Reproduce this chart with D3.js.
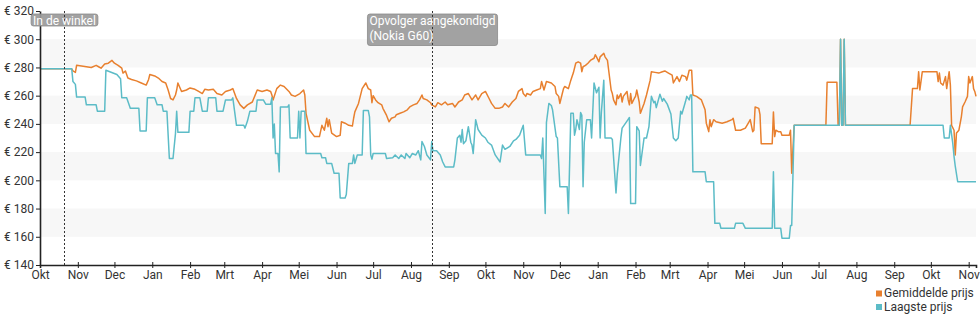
<!DOCTYPE html>
<html>
<head>
<meta charset="utf-8">
<script src="https://cdn.jsdelivr.net/npm/d3@7"></script>
<style>
  html, body { margin: 0; padding: 0; background: #fff; }
  svg { display: block; font-family: Roboto, "Open Sans", Arial, sans-serif; }
</style>
</head>
<body>
<svg id="chart" width="980" height="325"></svg>
<script>
// Price history, Nokia G50 — daily average and lowest offer (EUR)
const avgPrice = [
  ["2021-10-01",279],["2021-10-27",279],["2021-10-28",277.5],["2021-10-30",276.5],["2021-10-31",281.5],
  ["2021-11-04",281],["2021-11-08",280.5],["2021-11-12",280],["2021-11-16",281.5],["2021-11-18",280.5],
  ["2021-11-20",279.5],["2021-11-23",282.5],["2021-11-26",283],["2021-11-29",285],["2021-12-01",283],
  ["2021-12-04",281.5],["2021-12-07",279.5],["2021-12-08",276],["2021-12-10",277.5],["2021-12-12",272.5],
  ["2021-12-15",271.5],["2021-12-19",270.5],["2021-12-23",269],["2021-12-27",267.5],["2021-12-29",271.5],
  ["2021-12-30",275],["2022-01-03",274],["2022-01-06",272.5],["2022-01-09",270],["2022-01-12",269],
  ["2022-01-14",264],["2022-01-16",258],["2022-01-18",257],["2022-01-20",260.5],["2022-01-21",264],
  ["2022-01-22",269],["2022-01-25",263],["2022-01-29",264],["2022-02-01",265.5],["2022-02-05",264.5],
  ["2022-02-08",263],["2022-02-11",261.5],["2022-02-13",264.5],["2022-02-16",264],["2022-02-20",264.5],
  ["2022-02-23",261.5],["2022-02-27",260.5],["2022-03-02",263],["2022-03-06",264],["2022-03-08",265],
  ["2022-03-11",258],["2022-03-14",253.5],["2022-03-17",251],["2022-03-20",253.5],["2022-03-24",255.5],
  ["2022-03-28",264],["2022-04-01",263],["2022-04-05",264],["2022-04-08",263],["2022-04-09",260.5],
  ["2022-04-10",257],["2022-04-13",265],["2022-04-16",267.5],["2022-04-19",266.5],["2022-04-23",263],
  ["2022-04-25",260.5],["2022-04-28",259.5],["2022-05-02",261.5],["2022-05-05",264],["2022-05-06",260.5],
  ["2022-05-07",247.5],["2022-05-10",235.5],["2022-05-14",231],["2022-05-18",231],["2022-05-20",239],
  ["2022-05-22",235.5],["2022-05-24",244],["2022-05-25",238],["2022-05-26",243],["2022-05-28",233.5],
  ["2022-06-01",231],["2022-06-04",232],["2022-06-05",241.5],["2022-06-08",240.5],["2022-06-11",239],
  ["2022-06-14",238.5],["2022-06-15",244],["2022-06-16",248.5],["2022-06-19",254.5],["2022-06-22",265],
  ["2022-06-25",269],["2022-06-27",265],["2022-06-29",264],["2022-06-30",255],["2022-07-01",260],
  ["2022-07-03",257],["2022-07-05",255],["2022-07-08",253.5],["2022-07-09",251],["2022-07-12",246],
  ["2022-07-14",241.5],["2022-07-16",244],["2022-07-19",245],["2022-07-20",246.5],["2022-07-23",247.5],
  ["2022-07-26",248.5],["2022-07-29",250],["2022-07-31",252],["2022-08-03",253.5],["2022-08-06",254.5],
  ["2022-08-08",257],["2022-08-10",260.5],["2022-08-11",258],["2022-08-14",257],["2022-08-17",255],
  ["2022-08-18",253.5],["2022-08-21",252],["2022-08-23",255],["2022-08-26",253.5],["2022-08-29",255.5],
  ["2022-08-31",253.5],["2022-09-04",254.5],["2022-09-06",252],["2022-09-09",255.5],["2022-09-12",257],
  ["2022-09-14",260.5],["2022-09-17",261.5],["2022-09-20",257],["2022-09-23",260.5],["2022-09-25",257],
  ["2022-09-28",261.5],["2022-10-01",263],["2022-10-04",258],["2022-10-06",254.5],["2022-10-09",251],
  ["2022-10-12",251],["2022-10-15",252],["2022-10-17",254.5],["2022-10-20",252],["2022-10-23",255.5],
  ["2022-10-26",258],["2022-10-28",263],["2022-10-31",265],["2022-11-01",261.5],["2022-11-03",259.5],
  ["2022-11-04",261.5],["2022-11-07",260.5],["2022-11-09",263],["2022-11-12",264],["2022-11-15",265],
  ["2022-11-16",270],["2022-11-18",264],["2022-11-20",270],["2022-11-24",269],["2022-11-27",266.5],
  ["2022-11-28",261.5],["2022-11-30",259.5],["2022-12-01",254.5],["2022-12-03",261.5],["2022-12-04",265],
  ["2022-12-05",266.5],["2022-12-08",265],["2022-12-10",271],["2022-12-11",273.5],["2022-12-12",276],
  ["2022-12-14",283],["2022-12-16",284],["2022-12-18",283],["2022-12-19",277],["2022-12-20",280.5],
  ["2022-12-22",281.5],["2022-12-24",283],["2022-12-26",285],["2022-12-29",286.5],["2022-12-30",289],
  ["2022-12-31",287.5],["2023-01-02",284],["2023-01-03",287.5],["2023-01-06",290],["2023-01-07",287.5],
  ["2023-01-09",285],["2023-01-10",278],["2023-01-12",264],["2023-01-13",261.5],["2023-01-14",257],
  ["2023-01-16",253.5],["2023-01-17",260.5],["2023-01-18",258],["2023-01-20",261.5],["2023-01-21",255.5],
  ["2023-01-22",259.5],["2023-01-25",263],["2023-01-26",257],["2023-01-27",253.5],["2023-01-28",261.5],
  ["2023-01-29",254.5],["2023-01-31",258],["2023-02-01",259.5],["2023-02-02",264],["2023-02-04",255.5],
  ["2023-02-05",247.5],["2023-02-08",254.5],["2023-02-10",260.5],["2023-02-13",271],["2023-02-14",277],
  ["2023-02-17",276.5],["2023-02-20",276],["2023-02-23",277],["2023-02-25",277.5],["2023-02-28",276],
  ["2023-03-03",274.5],["2023-03-04",269],["2023-03-07",273.5],["2023-03-09",270],["2023-03-11",274.5],
  ["2023-03-14",273.5],["2023-03-15",271],["2023-03-17",278],["2023-03-19",278],["2023-03-20",260.5],
  ["2023-03-23",259.5],["2023-03-27",257],["2023-03-30",250],["2023-03-31",240.5],["2023-04-02",234.5],
  ["2023-04-03",243],["2023-04-04",238],["2023-04-06",243],["2023-04-08",241.5],["2023-04-13",240.5],
  ["2023-04-17",241.5],["2023-04-21",243],["2023-04-22",244],["2023-04-24",235.5],["2023-04-28",235.5],
  ["2023-05-02",237],["2023-05-05",241.5],["2023-05-06",243],["2023-05-08",234.5],["2023-05-09",235.5],
  ["2023-05-10",252],["2023-05-13",251],["2023-05-14",246.5],["2023-05-15",226],["2023-05-24",226],
  ["2023-05-25",248.5],["2023-05-26",231],["2023-05-27",235.5],["2023-05-29",234.5],["2023-05-31",234.5],
  ["2023-06-01",232],["2023-06-07",232],["2023-06-08",235.5],["2023-06-09",205],["2023-06-11",239],
  ["2023-07-07",239],["2023-07-08",269.5],["2023-07-16",269.5],["2023-07-17",239],["2023-07-18",239],
  ["2023-07-19",300],["2023-07-20",239],["2023-07-21",239],["2023-07-22",300],["2023-07-23",239],
  ["2023-09-14",239],["2023-09-16",265],["2023-09-20",265],["2023-09-21",277],["2023-09-22",264],
  ["2023-09-24",277],["2023-10-06",277],["2023-10-07",270],["2023-10-08",276],["2023-10-09",269],
  ["2023-10-11",267.5],["2023-10-13",273.5],["2023-10-14",265],["2023-10-16",277],["2023-10-17",267.5],
  ["2023-10-18",239],["2023-10-20",235.5],["2023-10-21",218],["2023-10-22",233.5],["2023-10-24",235.5],
  ["2023-10-26",245],["2023-10-27",252],["2023-10-29",255.5],["2023-10-31",259.5],["2023-11-01",273.5],
  ["2023-11-02",269],["2023-11-04",273.5],["2023-11-05",265],["2023-11-06",263],["2023-11-07",259.5]
];

const lowPrice = [
  ["2021-10-01",279],["2021-10-27",279],["2021-10-28",270],["2021-10-30",268],["2021-10-31",259],
  ["2021-11-07",259],["2021-11-08",253.5],["2021-11-16",253.5],["2021-11-17",249],["2021-11-23",249],
  ["2021-11-24",278],["2021-12-03",275],["2021-12-06",272],["2021-12-07",258.5],["2021-12-11",258.5],
  ["2021-12-12",256],["2021-12-14",251],["2021-12-21",251],["2021-12-22",235],["2021-12-27",235],
  ["2021-12-28",258.5],["2022-01-03",258.5],["2022-01-05",253.5],["2022-01-09",253.5],["2022-01-10",249],
  ["2022-01-13",249],["2022-01-15",215.5],["2022-01-18",215.5],["2022-01-20",233],["2022-01-21",249],
  ["2022-01-22",234],["2022-01-31",234],["2022-02-01",249],["2022-02-04",249],["2022-02-05",258.5],
  ["2022-02-09",258.5],["2022-02-11",249],["2022-02-15",249],["2022-02-16",258.5],["2022-02-22",258.5],
  ["2022-02-23",249],["2022-02-28",249],["2022-03-02",257],["2022-03-07",257],["2022-03-08",258.5],
  ["2022-03-11",239],["2022-03-17",239],["2022-03-18",237],["2022-03-20",242],["2022-03-22",249],
  ["2022-03-27",249],["2022-03-28",257],["2022-04-02",257],["2022-04-04",254],["2022-04-08",254],
  ["2022-04-09",258.5],["2022-04-10",230],["2022-04-11",240],["2022-04-12",219],["2022-04-14",219],
  ["2022-04-15",206],["2022-04-16",252],["2022-04-22",252],["2022-04-23",253.5],["2022-04-24",230],
  ["2022-04-30",230],["2022-05-01",249],["2022-05-02",230],["2022-05-03",249],["2022-05-06",249],
  ["2022-05-07",219],["2022-05-19",219],["2022-05-20",216],["2022-05-23",216],["2022-05-24",212],
  ["2022-05-28",212],["2022-05-30",205],["2022-06-03",205],["2022-06-04",187.5],["2022-06-08",187.5],
  ["2022-06-09",190],["2022-06-11",212],["2022-06-14",212],["2022-06-15",218],["2022-06-16",212],
  ["2022-06-18",218],["2022-06-22",218],["2022-06-23",249.5],["2022-06-27",249.5],["2022-06-28",245],
  ["2022-06-29",218],["2022-06-30",215],["2022-07-01",219],["2022-07-11",219],["2022-07-12",215.5],
  ["2022-07-17",216],["2022-07-19",218],["2022-07-22",215.5],["2022-07-24",218],["2022-07-27",215.5],
  ["2022-07-28",219],["2022-07-31",216],["2022-08-02",219],["2022-08-05",218],["2022-08-07",221],
  ["2022-08-09",214.5],["2022-08-10",227.5],["2022-08-12",224],["2022-08-14",218],["2022-08-17",214.5],
  ["2022-08-18",227.5],["2022-08-19",221],["2022-08-22",221],["2022-08-25",218],["2022-08-27",213],
  ["2022-08-29",209.5],["2022-09-05",209.5],["2022-09-06",214.5],["2022-09-08",230],["2022-09-10",232],
  ["2022-09-11",227],["2022-09-12",236],["2022-09-13",226],["2022-09-15",228],["2022-09-17",238],
  ["2022-09-19",227],["2022-09-20",225],["2022-09-21",219],["2022-09-23",243],["2022-09-25",236],
  ["2022-09-28",232],["2022-10-01",230],["2022-10-03",227],["2022-10-06",225],["2022-10-09",218],
  ["2022-10-13",213],["2022-10-15",225],["2022-10-17",222],["2022-10-21",224],["2022-10-24",228],
  ["2022-10-26",229],["2022-10-29",232],["2022-11-01",239],["2022-11-03",218],["2022-11-15",218],
  ["2022-11-16",215.5],["2022-11-17",230],["2022-11-19",176.5],["2022-11-20",241],["2022-11-22",254.5],
  ["2022-11-24",253],["2022-11-25",250],["2022-11-28",231],["2022-11-29",230],["2022-12-01",195.5],
  ["2022-12-07",195.5],["2022-12-08",176.5],["2022-12-10",247.5],["2022-12-12",247.5],["2022-12-13",232],
  ["2022-12-14",236],["2022-12-15",243],["2022-12-17",236],["2022-12-18",248],["2022-12-19",246],
  ["2022-12-20",195.5],["2022-12-21",227],["2022-12-23",243],["2022-12-26",243],["2022-12-27",230],
  ["2022-12-29",269],["2022-12-31",262],["2023-01-02",266],["2023-01-03",230],["2023-01-04",248],
  ["2023-01-06",271],["2023-01-07",230],["2023-01-12",230],["2023-01-13",229],["2023-01-16",191],
  ["2023-01-17",204],["2023-01-20",230],["2023-01-21",237],["2023-01-25",242],["2023-01-27",244.5],
  ["2023-01-28",183.5],["2023-02-01",183.5],["2023-02-02",238],["2023-02-04",235],["2023-02-05",210.5],
  ["2023-02-08",230],["2023-02-10",230],["2023-02-12",238],["2023-02-14",259.5],["2023-02-16",255],
  ["2023-02-17",256],["2023-02-18",251.5],["2023-02-21",261],["2023-02-23",256],["2023-02-24",258],
  ["2023-02-27",254],["2023-03-02",247],["2023-03-04",230],["2023-03-06",228],["2023-03-08",230],
  ["2023-03-10",249],["2023-03-11",247],["2023-03-13",253],["2023-03-14",256],["2023-03-15",259.5],
  ["2023-03-17",257],["2023-03-18",260.5],["2023-03-19",260.5],["2023-03-20",206],["2023-03-30",206],
  ["2023-03-31",199],["2023-04-06",199],["2023-04-07",169.5],["2023-04-11",169.5],["2023-04-12",166],
  ["2023-04-23",166],["2023-04-24",169.5],["2023-04-30",169.5],["2023-05-02",166],["2023-05-24",166],
  ["2023-05-25",206],["2023-05-26",166],["2023-05-31",166],["2023-06-01",159],["2023-06-07",159],
  ["2023-06-08",168],["2023-06-09",168],["2023-06-11",239],["2023-07-18",239],["2023-07-19",300],
  ["2023-07-20",239],["2023-07-21",239],["2023-07-22",300],["2023-07-23",239],["2023-10-11",239],
  ["2023-10-12",230],["2023-10-16",230],["2023-10-17",239],["2023-10-19",226],["2023-10-20",217],
  ["2023-10-21",210],["2023-10-23",199],["2023-11-07",199]
];

const priceTicks = [140, 160, 180, 200, 220, 240, 260, 280, 300, 320];
const monthNames = ["Jan", "Feb", "Mrt", "Apr", "Mei", "Jun", "Jul", "Aug", "Sep", "Okt", "Nov", "Dec"];
const periodStart = "2021-10-01";
const periodEnd = "2023-11-07";
const events = [
  { date: "2021-10-21", lines: ["In de winkel"] },
  { date: "2022-08-18", lines: ["Opvolger aangekondigd", "(Nokia G60)"] }
];
const seriesNames = ["Gemiddelde prijs", "Laagste prijs"];

// ---- drawing ----
const parse = d3.timeParse("%Y-%m-%d");
const COLORS = ["#e8802f", "#5cbcc7"];
const svg = d3.select("#chart");

const x = d3.scaleTime()
  .domain([parse(periodStart), parse(periodEnd)])
  .range([40, 976]);
const y = d3.scaleLinear()
  .domain([d3.min(priceTicks), d3.max(priceTicks)])
  .range([265, 11]);

// alternating horizontal bands
const step = priceTicks[1] - priceTicks[0];
svg.append("g").selectAll("rect")
  .data(priceTicks.slice(0, -1).filter((t, i) => i % 2 === 1))
  .join("rect")
  .attr("x", x.range()[0])
  .attr("width", x.range()[1] - x.range()[0])
  .attr("y", d => y(d + step))
  .attr("height", d => y(d) - y(d + step))
  .attr("fill", "#f7f7f7");

// series lines
const line = d3.line()
  .x(d => x(parse(d[0])))
  .y(d => y(d[1]))
  .curve(d3.curveLinear);

[avgPrice, lowPrice].forEach((series, i) => {
  svg.append("path")
    .datum(series)
    .attr("fill", "none")
    .attr("stroke", COLORS[i])
    .attr("stroke-width", 1.5)
    .attr("stroke-linejoin", "round")
    .attr("d", line);
});

// y axis
const yAxis = svg.append("g")
  .attr("transform", `translate(${x.range()[0]},0)`)
  .call(d3.axisLeft(y).tickValues(priceTicks).tickSize(4).tickSizeOuter(0).tickPadding(2)
    .tickFormat(d => "€ " + d));
yAxis.select(".domain").attr("stroke", "#222").attr("stroke-width", 1.6);
yAxis.selectAll(".tick line").attr("stroke", "#222");
yAxis.selectAll("text").attr("font-size", 12).attr("fill", "#333")
  .attr("font-family", "Roboto, sans-serif");

// x axis with Dutch month abbreviations
const xAxis = svg.append("g")
  .attr("transform", `translate(0,${y.range()[0]})`)
  .call(d3.axisBottom(x).ticks(d3.timeMonth.every(1)).tickSizeOuter(0).tickSize(3).tickPadding(2)
    .tickFormat(d => monthNames[d.getMonth()]));
xAxis.select(".domain").attr("stroke", "#222").attr("stroke-width", 1.6);
xAxis.selectAll(".tick line").attr("stroke", "#222").attr("y1", -3).attr("y2", 3);
xAxis.selectAll("text").attr("font-size", 12).attr("fill", "#333")
  .attr("font-family", "Roboto, sans-serif");

// event markers: dotted line with a label box centred on it
events.forEach(ev => {
  const ex = Math.round(x(parse(ev.date))) + 0.5;
  const g = svg.append("g");
  const box = g.append("rect");
  g.append("line")
    .attr("x1", ex).attr("x2", ex)
    .attr("y1", y.range()[1]).attr("y2", y.range()[0])
    .attr("stroke", "#333").attr("stroke-width", 1)
    .attr("stroke-dasharray", "2,2");
  const txt = g.append("text")
    .attr("font-size", 12)
    .attr("fill", "#fff");
  const spans = ev.lines.map((l, i) =>
    txt.append("tspan").attr("x", 0).attr("y", 24.5 + i * 15.5).text(l));
  const w = d3.max(spans, s => s.node().getComputedTextLength());
  const left = ex - w / 2;
  spans.forEach(s => s.attr("x", left));
  const h = ev.lines.length === 1 ? 12 : 31.5;
  box.attr("x", left - 2).attr("y", 14)
    .attr("width", w + 4).attr("height", h)
    .attr("rx", 2.5)
    .attr("fill", "#9a9a9a").attr("fill-opacity", 0.92)
    .attr("stroke", "#8a8a8a").attr("stroke-width", 0.8);
});

// legend
const legend = svg.append("g");
seriesNames.forEach((name, i) => {
  legend.append("rect")
    .attr("x", 876).attr("y", 290.5 + i * 13.5)
    .attr("width", 6).attr("height", 6)
    .attr("fill", COLORS[i]);
  legend.append("text")
    .attr("x", 884).attr("y", 297 + i * 13.5)
    .attr("font-size", 12).attr("fill", "#333")
    .text(name);
});
</script>
</body>
</html>
